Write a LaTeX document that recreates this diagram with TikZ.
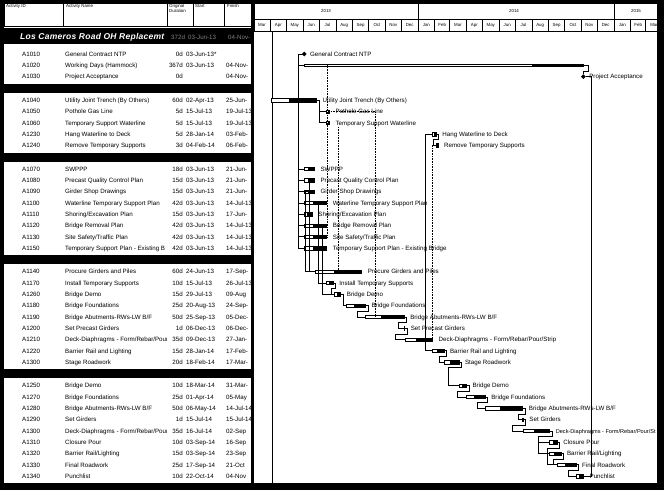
\documentclass[tikz,border=0pt]{standalone}
\usepackage{fontspec}
\setmainfont{Liberation Sans}
\usetikzlibrary{calc,shapes.geometric}
\newcommand\dx[1]{253.7+0.537*(#1)}
\newcommand\gbar[5]{%
  \coordinate (s#1) at ({\dx{#2}},#4);
  \coordinate (e#1) at ({\dx{#3+1}},#4);
  \draw[barout] ($(s#1)+(0,-1.7)$) rectangle ($(e#1)+(0,1.7)$);
  \fill ($(s#1)!0.4!(e#1)+(0,-1.7)$) rectangle ($(e#1)+(0,1.7)$);
  \node[glab] (l#1) at ($(e#1)+(6,2.2)$) {#5};}
\newcommand\fwd[2]{\draw[link] (e#1) -- ++(2.5,0) |- (s#2);}
\newcommand\brk[3][3]{\draw[link] (e#2) -- ++(2.5,0) -- ++(0,5.65) -| ([xshift=-#1pt]s#3) -- (s#3);}
\begin{document}
\begin{tikzpicture}[x=1pt,y=-1pt,
  cell/.style={font=\fontsize{6.2}{7}\selectfont, inner sep=0pt, anchor=base west},
  glab/.style={font=\fontsize{6.2}{7}\selectfont, inner sep=0pt, anchor=base west},
  hdr/.style={font=\fontsize{4.4}{5}\selectfont, inner sep=0pt, anchor=north west, align=left},
  mon/.style={font=\fontsize{4.4}{5}\selectfont, inner sep=0pt},
  link/.style={line width=0.7pt},
  dotlink/.style={line width=0.6pt, densely dotted},
  barout/.style={draw, line width=0.5pt, fill=white},
  ms/.style={diamond, fill=black, inner sep=0pt, minimum size=5pt}]
% canvas
\useasboundingbox (0,0) rectangle (664,490);
\fill[white] (0,0) rectangle (664,490);
% frame
\fill[black] (0,0) rectangle (664,2.5);
\fill[black] (0,0) rectangle (4,490);
\fill[black] (657,0) rectangle (664,490);
\fill[black] (0,483) rectangle (664,490);
\fill[black] (251.2,2) rectangle (254,483);
% table header
\draw[line width=0.5pt] (4.5,3) rectangle (251,26.5);
\foreach \xx in {63,167,193,224} \draw[line width=0.5pt] (\xx,3) -- (\xx,26.5);
\node[hdr] (hID) at (6,4.5) {Activity ID};
\node[hdr] (hNm) at (66,4.5) {Activity Name};
\node[hdr] (hDu) at (169,4.5) {Original\\Duration};
\node[hdr] (hSt) at (195,4.5) {Start};
\node[hdr] (hFi) at (227,4.5) {Finish};
% title band and group bands
\fill[black] (4,28) rectangle (251.2,44);
\node[font=\fontsize{8.5}{9}\selectfont\bfseries\itshape\addfontfeature{LetterSpace=3}, text=white, inner sep=0pt, anchor=base west] (title) at (20,39) {Los Cameros Road OH Replacemt};
\node[cell, text=black!50] (tdu) at (171,39) {372d};
\node[cell, text=black!50] (tst) at (188,39) {03-Jun-13};
\node[cell, text=black!50] (tfi) at (228,39) {04-Nov-};
\foreach \cy in {88.4,157.2,259.9,373.9} \fill[black] (4,\cy-4.5) rectangle (251.2,\cy+4.5);
% timeline header
\draw[line width=0.5pt] (254,3) rectangle (657,31);
\draw[line width=0.5pt] (254,19) -- (657,19);
\draw[line width=0.5pt] ({\dx{306}},3) -- ({\dx{306}},19);
\draw[line width=0.5pt] ({\dx{671}},3) -- ({\dx{671}},19);
\node[mon] (y13) at (326,11) {2013};
\node[mon] (y14) at (514,11) {2014};
\node[mon] (y15) at (636,11) {2015};
\begin{scope}
\clip (254,19) rectangle (657,31);
\foreach \m/\a/\b in {Mar/0/31,Apr/31/61,May/61/92,Jun/92/122,Jul/122/153,Aug/153/184,Sep/184/214,Oct/214/245,Nov/245/275,Dec/275/306,Jan/306/337,Feb/337/365,Mar/365/396,Apr/396/426,May/426/457,Jun/457/487,Jul/487/518,Aug/518/549,Sep/549/579,Oct/579/610,Nov/610/640,Dec/640/671,Jan/671/702,Feb/702/730,Mar/730/761}{
  \draw[line width=0.5pt] ({\dx{\a}},19) -- ({\dx{\a}},31);
  \node[mon] (mo\a) at ({\dx{(\a+\b)/2}},25.3) {\m};
}
\end{scope}
% table rows
\def\rows{1/A1010/{General Contract NTP}/0d/03-Jun-13*/{}/54,
 2/A1020/{Working Days (Hammock)}/367d/03-Jun-13/04-Nov-/65.3,
 3/A1030/{Project Acceptance}/0d/{}/04-Nov-/76.6,
 4/A1040/{Utility Joint Trench (By Others)}/60d/02-Apr-13/25-Jun-/100.2,
 5/A1050/{Pothole Gas Line}/5d/15-Jul-13/19-Jul-13/111.5,
 6/A1060/{Temporary Support Waterline}/5d/15-Jul-13/19-Jul-13/122.8,
 7/A1230/{Hang Waterline to Deck}/5d/28-Jan-14/03-Feb-/134.1,
 8/A1240/{Remove Temporary Supports}/3d/04-Feb-14/06-Feb-/145.4,
 9/A1070/{SWPPP}/18d/03-Jun-13/21-Jun-/169,
 10/A1080/{Precast Quality Control Plan}/15d/03-Jun-13/21-Jun-/180.3,
 11/A1090/{Girder Shop Drawings}/15d/03-Jun-13/21-Jun-/191.6,
 12/A1100/{Waterline Temporary Support Plan}/42d/03-Jun-13/14-Jul-13/202.9,
 13/A1110/{Shoring/Excavation Plan}/15d/03-Jun-13/17-Jun-/214.2,
 14/A1120/{Bridge Removal Plan}/42d/03-Jun-13/14-Jul-13/225.5,
 15/A1130/{Site Safety/Traffic Plan}/42d/03-Jun-13/14-Jul-13/236.8,
 16/A1150/{Temporary Support Plan - Existing B}/42d/03-Jun-13/14-Jul-13/248.1,
 17/A1140/{Procure Girders and Piles}/60d/24-Jun-13/17-Sep-/271.7,
 18/A1170/{Install Temporary Supports}/10d/15-Jul-13/26-Jul-13/283,
 19/A1260/{Bridge Demo}/15d/29-Jul-13/09-Aug/294.3,
 20/A1180/{Bridge Foundations}/25d/20-Aug-13/24-Sep-/305.6,
 21/A1190/{Bridge Abutments-RWs-LW B/F}/50d/25-Sep-13/05-Dec-/316.9,
 22/A1200/{Set Precast Girders}/1d/06-Dec-13/06-Dec-/328.2,
 23/A1210/{Deck-Diaphragms - Form/Rebar/Pour/}/35d/09-Dec-13/27-Jan-/339.5,
 24/A1220/{Barrier Rail and Lighting}/15d/28-Jan-14/17-Feb-/350.8,
 25/A1300/{Stage Roadwork}/20d/18-Feb-14/17-Mar-/362.1,
 26/A1250/{Bridge Demo}/10d/18-Mar-14/31-Mar-/385.7,
 27/A1270/{Bridge Foundations}/25d/01-Apr-14/05-May/397,
 28/A1280/{Bridge Abutments-RWs-LW B/F}/50d/06-May-14/14-Jul-14/408.3,
 29/A1290/{Set Girders}/1d/15-Jul-14/15-Jul-14/419.6,
 30/A1300/{Deck-Diaphragms - Form/Rebar/Pour}/35d/16-Jul-14/02-Sep/430.9,
 31/A1310/{Closure Pour}/10d/03-Sep-14/16-Sep/442.2,
 32/A1320/{Barrier Rail/Lighting}/15d/03-Sep-14/23-Sep/453.5,
 33/A1330/{Final Roadwork}/25d/17-Sep-14/21-Oct/464.8,
 34/A1340/{Punchlist}/10d/22-Oct-14/04-Nov/476.1}
\begin{scope}
\clip (4,28) rectangle (166,483);
\foreach \k/\rid/\rnm/\rdu/\rsta/\rfin/\yy in \rows {
  \node[cell] (nm\k) at (65,\yy+2.2) {\rnm};
}
\end{scope}
\begin{scope}
\clip (4,28) rectangle (251,483);
\foreach \k/\rid/\rnm/\rdu/\rsta/\rfin/\yy in \rows {
  \node[cell] (id\k) at (22,\yy+2.2) {\rid};
  \node[cell, anchor=base east] (du\k) at (183,\yy+2.2) {\rdu};
  \node[cell] (st\k) at (186,\yy+2.2) {\rsta};
  \node[cell] (fi\k) at (226,\yy+2.2) {\rfin};
}
\end{scope}
% gantt body
\begin{scope}
\clip (254,31) rectangle (657,483);
\draw[line width=0.5pt] (272,31) -- (272,483);
% bars
\gbar{1040}{32}{116}{100.2}{Utility Joint Trench (By Others)}
\gbar{1050}{136}{140}{111.5}{Pothole Gas Line}
\gbar{1060}{136}{140}{122.8}{Temporary Support Waterline}
\gbar{1230}{333}{339}{134.1}{Hang Waterline to Deck}
\gbar{1240}{340}{342}{145.4}{Remove Temporary Supports}
\gbar{1070}{94}{112}{169}{SWPPP}
\gbar{1080}{94}{112}{180.3}{Precast Quality Control Plan}
\gbar{1090}{94}{112}{191.6}{Girder Shop Drawings}
\gbar{1100}{94}{135}{202.9}{Waterline Temporary Support Plan}
\gbar{1110}{94}{108}{214.2}{Shoring/Excavation Plan}
\gbar{1120}{94}{135}{225.5}{Bridge Removal Plan}
\gbar{1130}{94}{135}{236.8}{Site Safety/Traffic Plan}
\gbar{1150}{94}{135}{248.1}{Temporary Support Plan - Existing Bridge}
\gbar{1140}{115}{200}{271.7}{Procure Girders and Piles}
\gbar{1170}{136}{147}{283}{Install Temporary Supports}
\gbar{1260}{150}{161}{294.3}{Bridge Demo}
\gbar{1180}{172}{207}{305.6}{Bridge Foundations}
\gbar{1190}{208}{279}{316.9}{Bridge Abutments-RWs-LW B/F}
\gbar{1200}{280}{280}{328.2}{Set Precast Girders}
\gbar{1210}{283}{332}{339.5}{Deck-Diaphragms - Form/Rebar/Pour/Strip}
\gbar{1220}{333}{353}{350.8}{Barrier Rail and Lighting}
\gbar{1300a}{354}{381}{362.1}{Stage Roadwork}
\gbar{1250}{382}{395}{385.7}{Bridge Demo}
\gbar{1270}{396}{430}{397}{Bridge Foundations}
\gbar{1280}{431}{500}{408.3}{Bridge Abutments-RWs-LW B/F}
\gbar{1290}{501}{501}{419.6}{Set Girders}
\gbar{1300b}{502}{550}{430.9}{\fontsize{5.6}{6}\selectfont Deck-Diaphragms - Form/Rebar/Pour/St}
\gbar{1310}{551}{564}{442.2}{Closure Pour}
\gbar{1320}{551}{571}{453.5}{Barrier Rail/Lighting}
\gbar{1330}{565}{599}{464.8}{Final Roadwork}
\gbar{1340}{600}{613}{476.1}{Punchlist}
% hammock
\coordinate (s1020) at ({\dx{94}},65.3);
\coordinate (e1020) at ({\dx{614}},65.3);
\draw[barout] ($(s1020)+(0,-1.1)$) rectangle ($(e1020)+(0,1.1)$);
\fill (532,64) rectangle ($(e1020)+(0,1.4)$);
% milestones
\node[ms] (m1010) at ({\dx{94}},54) {};
\node[glab] (l1010) at ($(m1010.east)+(3,2.2)$) {General Contract NTP};
\node[ms] (m1030) at ({\dx{614}},76.6) {};
\node[glab] (l1030) at ($(m1030.east)+(3,2.2)$) {Project Acceptance};
% driving links
\foreach \t in {1020,1070,1080,1090,1100,1110,1120,1130,1150}
  \draw[link] (m1010.center) -- ++(-6,0) |- (s\t);
\draw[link] (e1020) -- ++(5,0) -- ++(0,6) -| (m1030.north);
\draw[link] (e1340) -- ++(8,0) |- (m1030.east);
\fwd{1040}{1050}
\fwd{1040}{1060}
\draw[link] (e1080) -| ([xshift=-6pt]s1140) -- (s1140);
\draw[link] (e1090) -| ([xshift=-10pt]s1140) -- (s1140);
\draw[link] (e1100) -| ([xshift=-8pt]s1170) -- (s1170);
\draw[link] (e1120) -| ([xshift=-12pt]s1260) -- (s1260);
\brk[3]{1170}{1260}
\fwd{1260}{1180}
\brk[8]{1180}{1190}
\brk[6]{1190}{1200}
\brk[10]{1200}{1210}
\draw[link] (s1230) -- ++(-7,0) |- (s1220);
\brk[3]{1230}{1240}
\brk[4]{1220}{1300a}
\brk[10]{1300a}{1250}
\brk[9]{1250}{1270}
\brk[8]{1270}{1280}
\brk[4]{1280}{1290}
\brk[11]{1290}{1300b}
\brk[11]{1300b}{1310}
\brk[11]{1300b}{1320}
\brk[10]{1310}{1330}
\brk[4]{1320}{1330}
\brk[8]{1330}{1340}
% non-driving links
\coordinate (d1) at (375,316.9);
\draw[dotlink] (e1050) -| (d1);
\coordinate (d2) at (327,65.3);
\draw[dotlink] (d2) -- (d2 |- e1130);
\coordinate (d3) at (338,127);
\draw[dotlink] (d3) -- (d3 |- s1140);
\draw[dotlink] (s1240) -| (e1210);
\end{scope}
\end{tikzpicture}
\end{document}
